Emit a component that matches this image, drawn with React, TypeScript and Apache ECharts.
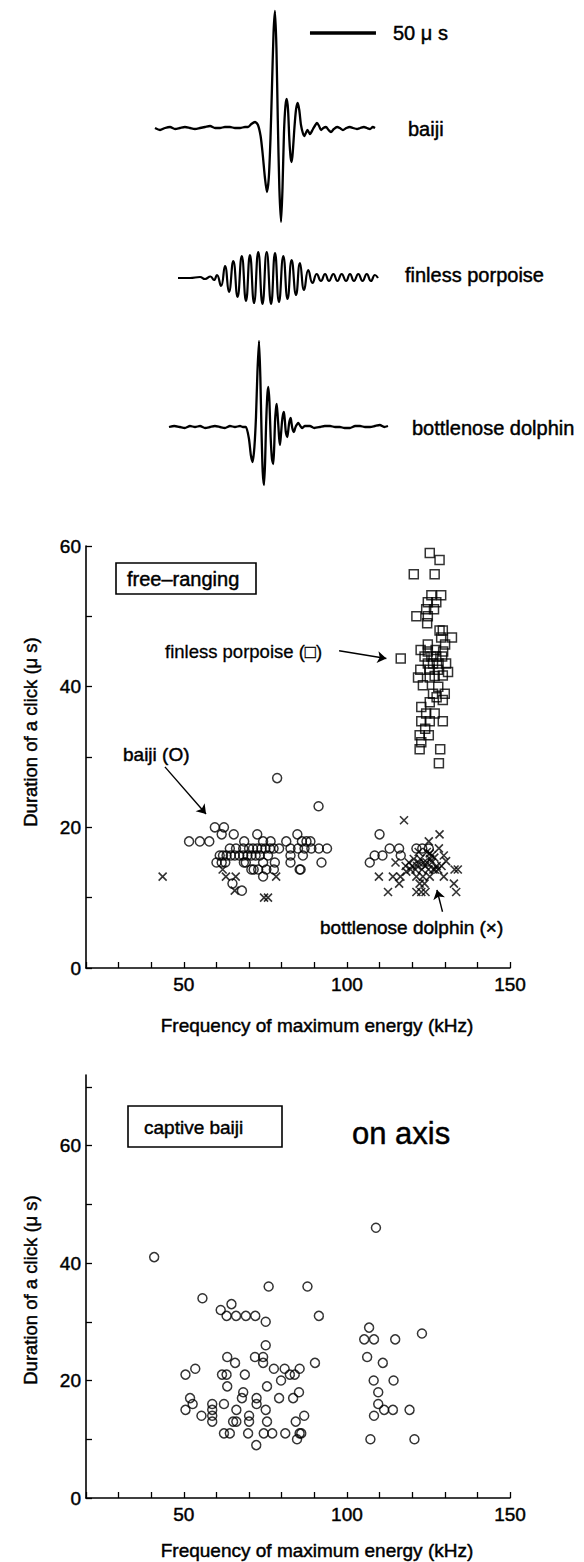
import React, { useEffect, useRef } from "react";
import * as echarts from "echarts";

const FONT = "'Liberation Sans', Arial, Helvetica, sans-serif";

// ---- Waveforms: [time (μs), amplitude (arb.)] ----
const baijiWave = [
  [0, 0], [3.8, -2], [7.6, 0], [11.4, 1], [15.2, -1], [18.9, 0], [22.7, 1], [26.5, 0], [30.3, -1], [34.1, 0],
  [37.9, 1], [41.7, 2], [45.5, 0], [49.2, 0], [53, 1], [56.8, 1], [60.6, 0], [64.4, 0], [68.2, 1], [70.5, 1],
  [73, 4], [75.8, 6], [78, 3], [80, -8], [81.5, -25], [83.3, -50], [84.8, -64], [86.2, -50], [87.5, -10],
  [88.6, 40], [89.8, 95], [90.9, 117], [92, 80], [93, 10], [94.2, -60], [95.5, -94], [96.6, -60], [97.7, -5],
  [98.8, 22], [99.8, 29], [100.8, 18], [101.8, -12], [102.8, -30], [103.6, -34], [104.5, -22], [105.5, -2],
  [106.8, 18], [108.1, 25], [109.3, 18], [110.6, 3], [112, -5], [113.1, -8], [114.3, -5], [115.5, -2],
  [117.4, -6], [119.7, -1], [121.5, 3], [122.7, 5], [124.3, 2], [125.8, -2], [127.5, 0], [129.5, 1],
  [131.5, -2], [133.3, -4], [135.5, -1], [137.9, 1], [140, 0], [142.4, -2], [145, 0], [147.7, 1], [150, 0],
  [153, -1], [155.5, 0], [158.3, 1], [160.5, 0], [162.9, -1], [165, 1], [166.7, 0],
];
const porpoiseWave = [
  [0, 0], [9.1, 0], [16.7, 1], [20.5, -1], [24.6, 1.5], [27.3, -2], [29.5, 3], [32.6, -8], [35.6, 12],
  [38.6, -14], [41.9, 17], [45.1, -19], [48.3, 22], [51.5, -23], [54.5, 23], [57.6, -25], [60.8, 26],
  [64, -26], [67.2, 26], [70.5, -26], [73.5, 25], [76.5, -24], [79.8, 22], [83, -21], [86.1, 18], [89.4, -17],
  [92.4, 15], [95.5, -12], [98.7, 8], [101.9, -5], [105.1, 4], [108.3, -3], [111.4, 4], [114.4, -3],
  [117.7, 4], [120.8, -3], [124, 4], [127.3, -3], [130.3, 4], [133.3, -3], [136.6, 4], [139.8, -3],
  [143, 4], [146.2, -3], [149.2, 3], [151.5, 0],
];
const dolphinWave = [
  [0, 0], [4, 1], [8.3, 0], [12, -1], [15.9, 1], [19.7, 0], [23.5, 1], [27.3, -1], [31.1, 0], [34.8, 1],
  [38.6, 0], [42.4, -1], [46.2, 1], [50, 0], [53.8, 1], [56, 0], [58.3, 0], [60.6, -12], [62, -28],
  [63.4, -35], [64.7, -20], [65.9, 10], [67, 55], [68.2, 86], [69.2, 50], [70.1, -5], [71, -45], [72, -58],
  [72.8, -35], [73.5, 0], [74.4, 30], [75.2, 40], [76.1, 25], [77, -10], [78, -32], [79, -37], [79.7, -20],
  [80.3, 5], [81, 18], [81.6, 23], [82.3, 12], [82.9, 0], [83.5, -12], [84.1, -18], [84.8, -8], [85.6, 5],
  [86.3, 12], [87.1, 15], [87.8, 6], [88.4, -4], [89, -8], [89.6, -10], [90.3, -4], [90.9, 3], [91.5, 7],
  [92.2, 9], [92.8, 4], [93.4, -1], [94.1, -4], [94.7, -5], [95.4, -2], [96.2, 1], [97.2, 3], [98, 4],
  [99.5, 1], [100.8, -1], [103, 1], [106.8, 1], [110, -1], [114.4, 0], [118, 1], [122, 1], [125.8, 0],
  [129.5, 0], [133, -1], [137.1, -1], [141, 1], [144.7, 1], [148.5, 0], [152.3, 0], [156, 1], [159.8, 2],
  [163, 0], [165.9, 1],
];
const scaleBar = [[117.4, 95], [167.4, 95]]; // 50 μs

// ---- Free-ranging: [frequency kHz, duration μs] ----
const freeBaiji = [
  [78.6, 27], [91.3, 23],
  [59.5, 20], [62.3, 20],
  [61.6, 19], [65.3, 19], [72.5, 19], [84.8, 19],
  [51.6, 18], [54.9, 18], [57.8, 18], [68.5, 18], [74.3, 18], [76.6, 18], [81.4, 18], [86.2, 18], [87.6, 18], [88.8, 18],
  [64.1, 17], [66, 17], [68.2, 17], [70, 17], [71.2, 17], [72.5, 17], [73.8, 17], [75, 17], [76.4, 17], [77.5, 17],
  [79.2, 17], [82.7, 17], [85, 17], [87, 17], [89.1, 17], [91.4, 17], [93.9, 17],
  [61, 16], [62, 16], [63.1, 16], [64.4, 16], [65.6, 16], [67, 16], [68.2, 16], [69.5, 16], [70.7, 16], [72, 16],
  [73.3, 16], [75.8, 16], [82.7, 16], [86.5, 16],
  [60, 15], [61.6, 15], [62.7, 15], [68.4, 15], [69, 15], [74.3, 15], [77.9, 15], [82.7, 15], [92.2, 15],
  [70.7, 14], [71.4, 14], [72.8, 14], [75.3, 14], [77.6, 14], [85.5, 14], [85.8, 14],
  [74.3, 13], [64.9, 12], [67.8, 11],
  [110, 19], [113.1, 17], [116, 17], [108.5, 16], [110.9, 16], [116.5, 16], [107, 15],
  [121.3, 17], [123.1, 17], [125.1, 17],
];
const freePorpoise = [
  [125.4, 59], [128.4, 58], [120.5, 56], [126.9, 56], [125.9, 53], [128.9, 53], [124.8, 52], [127.4, 52],
  [124.3, 51], [126.7, 51], [121.3, 50], [124.8, 50], [124.6, 49], [128.4, 48], [129.4, 48], [128.9, 47],
  [132.2, 47], [130.1, 46], [124.8, 46], [116.5, 44],
  [122.6, 45.2], [124.8, 45], [127.2, 45.2], [129.5, 45],
  [123.8, 44.3], [125.9, 44.3], [127.4, 44.3], [129.2, 44.3],
  [124.8, 43.3], [126.4, 43.3], [128.1, 43.3], [130.4, 43.3],
  [122.5, 42.4], [125.4, 42.4], [127.9, 42.4], [131, 42.1],
  [121.8, 41.3], [125.4, 41.3], [126.9, 41.5], [129.4, 41.6],
  [123.3, 40.2], [128, 40], [126.4, 39], [130, 39], [127.5, 38.5], [129.4, 38.1], [125.4, 37.8], [122.8, 37.1],
  [124.3, 36.2], [126.9, 36.2], [122.8, 35.1], [125.4, 35.1], [129.4, 35.1], [124, 34], [122.3, 33.1],
  [125.1, 33.1], [122.8, 32.1], [122.3, 31.1], [128.6, 31.1], [128.2, 29.1],
];
const freeDolphin = [
  [43.5, 13], [61.9, 14], [62.9, 13], [65.9, 13], [78.3, 13], [65.6, 11], [74.6, 10], [75.8, 10],
  [117.5, 21], [128.4, 19], [125.1, 18], [128.2, 17], [125.4, 16.3], [129.7, 16], [126.8, 15.7], [130.4, 15.2],
  [114.9, 15], [109.8, 13], [114.1, 13], [116.4, 13], [118.2, 13.7], [116, 12], [112.6, 10.8],
  [133, 14], [134, 14], [129.7, 13], [132.8, 12], [133.5, 10.8],
  [121.3, 13], [123.3, 13], [125.4, 13], [122.3, 12], [123.8, 12], [121.3, 10.8], [122.8, 10.8], [124.1, 10.8],
  [119, 15], [120, 14.5], [121, 14], [122, 15], [123, 14], [124, 14.5], [125, 14], [126, 15], [127, 14],
  [128, 14], [129, 14.5], [120.5, 15.5], [122.5, 15.5], [124.5, 15], [126.5, 14], [121.5, 14.5], [123.5, 15],
  [119.5, 14], [125.5, 15.5], [127.5, 14.5], [118, 14.5], [126, 16], [124.5, 16.5], [122, 16.5],
];

// ---- Captive baiji: [frequency kHz, duration μs] ----
const captiveBaiji = [
  [40.9, 41], [108.9, 46], [76, 36], [87.9, 36],
  [55.7, 34], [64.6, 33], [61.3, 32], [63.1, 31], [66, 31], [69, 31], [71.9, 31], [75.1, 30], [91.4, 31],
  [106.8, 29], [105.3, 27], [108.3, 27], [114.8, 27], [123, 28], [75.1, 26],
  [63.3, 24], [65.7, 23], [71.8, 24], [74.3, 24], [74.3, 23], [90.2, 23], [106.2, 24], [111, 23],
  [50.5, 21], [53.5, 22], [61.7, 21], [63.1, 21], [68.7, 21], [77.6, 22], [80.9, 22], [85.5, 22], [82.5, 21], [84, 21],
  [79.8, 20], [63.3, 19], [75.5, 19], [68.2, 18], [67.8, 17], [72.3, 17], [79.2, 17], [83.5, 17], [85.3, 18],
  [51.9, 17], [52.7, 16], [58.7, 16], [62.3, 16], [72.3, 16],
  [50.5, 15], [58.7, 15], [58.7, 14], [58.7, 13], [66.1, 15], [75.1, 15], [55.4, 14], [70, 14], [86.9, 14],
  [65.1, 13], [66.1, 13], [70, 13], [75.5, 13], [84.3, 13],
  [62.3, 11], [64.1, 11], [69.7, 11], [74.5, 11], [77.1, 11], [81.1, 11], [85.5, 11], [86, 11], [84.7, 10], [72.2, 9],
  [108.2, 20], [114.3, 20], [109.6, 18], [109.6, 16], [111.4, 15], [114.1, 15], [108.3, 14], [107.2, 10],
  [119.2, 15], [120.7, 10],
];

// ---- Axis ticks / labels ----
const xTickValues = [20, 30, 40, 50, 60, 70, 80, 90, 100, 110, 120, 130, 140, 150];
const xLabelValues = [50, 100, 150];
const yTicksFree = [0, 10, 20, 30, 40, 50, 60];
const yTicksCaptive = [0, 10, 20, 30, 40, 50, 60, 70];
const yLabelValues = [0, 20, 40, 60];

// ---- Annotation arrows (data coords) ----
const baijiArrow = [[44.2, 28.6], [56.8, 21.9]];
const porpoiseArrow = [[97.6, 45.1], [112.1, 44.0]];
const dolphinArrow = [[129.3, 8.0], [127.6, 11.1]];

const STROKE_W = 0.45;

function arrow(seg: number[][]) {
  return {
    silent: true,
    symbol: ["none", "arrow"],
    symbolSize: 9,
    label: { show: false },
    lineStyle: { color: "#000", width: 1.4, type: "solid" },
    emphasis: { disabled: true },
    data: [[{ coord: seg[0] }, { coord: seg[1] }]],
  };
}

function txt(text: string, x: number, y: number, size: number, align = "left", rotation = 0, sw = STROKE_W) {
  return {
    type: "text",
    x,
    y,
    rotation,
    silent: true,
    style: {
      text,
      fill: "#000",
      font: `${size}px ${FONT}`,
      fontSize: size,
      fontFamily: FONT,
      align,
      verticalAlign: "middle",
      textAlign: align,
      textVerticalAlign: "middle",
      stroke: sw > 0 ? "#000" : "none",
      lineWidth: sw,
    },
  };
}

function box(x: number, y: number, w: number, h: number) {
  return {
    type: "rect",
    silent: true,
    shape: { x, y, width: w, height: h },
    style: { fill: "none", stroke: "#000", lineWidth: 1.6 },
  };
}

const labelBase = {
  color: "#000",
  fontSize: 19,
  fontFamily: FONT,
  textBorderColor: "#000",
  textBorderWidth: STROKE_W,
};

function dataXAxis(gridIndex: number) {
  return {
    gridIndex,
    type: "value",
    min: 20,
    max: 150,
    interval: 10,
    axisLine: { show: true, onZero: false, lineStyle: { color: "#000", width: 1.6 } },
    axisTick: { show: true, inside: true, length: 6, customValues: xTickValues, lineStyle: { color: "#000", width: 1.3 } },
    axisLabel: { ...labelBase, customValues: xLabelValues, margin: 7 },
    splitLine: { show: false },
  };
}

function dataYAxis(gridIndex: number, max: number, ticks: number[]) {
  return {
    gridIndex,
    type: "value",
    min: 0,
    max,
    interval: 10,
    axisLine: { show: true, onZero: false, lineStyle: { color: "#000", width: 1.6 } },
    axisTick: { show: true, inside: true, length: 6, customValues: ticks, lineStyle: { color: "#000", width: 1.3 } },
    axisLabel: { ...labelBase, customValues: yLabelValues, margin: 5 },
    splitLine: { show: false },
  };
}

function hiddenAxis(gridIndex: number, min: number, max: number) {
  return { gridIndex, type: "value", min, max, show: false, splitLine: { show: false } };
}

const circleStyle = { color: "rgba(0,0,0,0)", borderColor: "#000", borderWidth: 1.5 };

export default function App() {
  const ref = useRef<HTMLDivElement>(null);
  useEffect(() => {
    document.body.style.margin = "0";
    const chart = echarts.init(ref.current!, undefined, { renderer: "svg" });
    chart.setOption({
      animation: false,
      backgroundColor: "#fff",
      grid: [
        { left: 155, top: 3, width: 224.4, height: 225 },
        { left: 178, top: 248, width: 211.2, height: 60 },
        { left: 169, top: 327, width: 224.4, height: 170 },
        { left: 86, top: 546, width: 424, height: 422 },
        { left: 86, top: 1075, width: 424, height: 423 },
      ],
      xAxis: [
        hiddenAxis(0, 0, 170),
        hiddenAxis(1, 0, 160),
        hiddenAxis(2, 0, 170),
        dataXAxis(3),
        dataXAxis(4),
      ],
      yAxis: [
        hiddenAxis(0, -100, 125),
        hiddenAxis(1, -30, 30),
        hiddenAxis(2, -70, 100),
        dataYAxis(3, 60, yTicksFree),
        dataYAxis(4, 72, yTicksCaptive),
      ],
      series: [
        {
          type: "line", xAxisIndex: 0, yAxisIndex: 0, data: baijiWave, showSymbol: false, smooth: 0.25,
          lineStyle: { color: "#000", width: 2.3 }, silent: true, clip: false,
        },
        {
          type: "line", xAxisIndex: 0, yAxisIndex: 0, data: scaleBar, showSymbol: false,
          lineStyle: { color: "#000", width: 3.5 }, silent: true, clip: false,
        },
        {
          type: "line", xAxisIndex: 1, yAxisIndex: 1, data: porpoiseWave, showSymbol: false, smooth: 0.5,
          lineStyle: { color: "#000", width: 2.2 }, silent: true, clip: false,
        },
        {
          type: "line", xAxisIndex: 2, yAxisIndex: 2, data: dolphinWave, showSymbol: false, smooth: 0.2,
          lineStyle: { color: "#000", width: 2.3 }, silent: true, clip: false,
        },
        {
          type: "scatter", xAxisIndex: 3, yAxisIndex: 3, data: freeBaiji, symbol: "circle", symbolSize: 9,
          itemStyle: circleStyle, silent: true, markLine: arrow(baijiArrow),
        },
        {
          type: "scatter", xAxisIndex: 3, yAxisIndex: 3, data: freePorpoise, symbol: "rect", symbolSize: 9,
          itemStyle: circleStyle, silent: true, markLine: arrow(porpoiseArrow),
        },
        {
          type: "scatter", xAxisIndex: 3, yAxisIndex: 3, data: freeDolphin,
          symbol: "path://M0,0L10,10M10,0L0,10", symbolSize: 8,
          itemStyle: { color: "none", borderColor: "#000", borderWidth: 1.6 }, silent: true,
          markLine: arrow(dolphinArrow),
        },
        {
          type: "scatter", xAxisIndex: 4, yAxisIndex: 4, data: captiveBaiji, symbol: "circle", symbolSize: 9,
          itemStyle: circleStyle, silent: true,
        },
      ],
      graphic: {
        elements: [
          txt("50 μ s", 393, 33, 20),
          txt("baiji", 408, 129, 20),
          txt("finless porpoise", 405, 275, 20),
          txt("bottlenose dolphin", 412, 428, 20),
          box(116, 563, 140, 31),
          txt("free–ranging", 127, 579, 20),
          txt("finless porpoise (□)", 165, 651, 18.5, "left", 0, 0.3),
          txt("baiji (O)", 123, 754, 19),
          txt("bottlenose dolphin (×)", 320, 927, 19),
          txt("Duration of a click (μ s)", 30, 732, 18.5, "center", Math.PI / 2),
          txt("Frequency of maximum energy (kHz)", 317, 1025, 19, "center"),
          box(128, 1106, 154, 41),
          txt("captive baiji", 144, 1127, 19),
          txt("on axis", 352, 1133, 31),
          txt("Duration of a click (μ s)", 30, 1290, 18.5, "center", Math.PI / 2),
          txt("Frequency of maximum energy (kHz)", 317, 1550, 19, "center"),
        ],
      },
    });
    return () => chart.dispose();
  }, []);
  return <div ref={ref} style={{ width: 584, height: 1562 }} />;
}
